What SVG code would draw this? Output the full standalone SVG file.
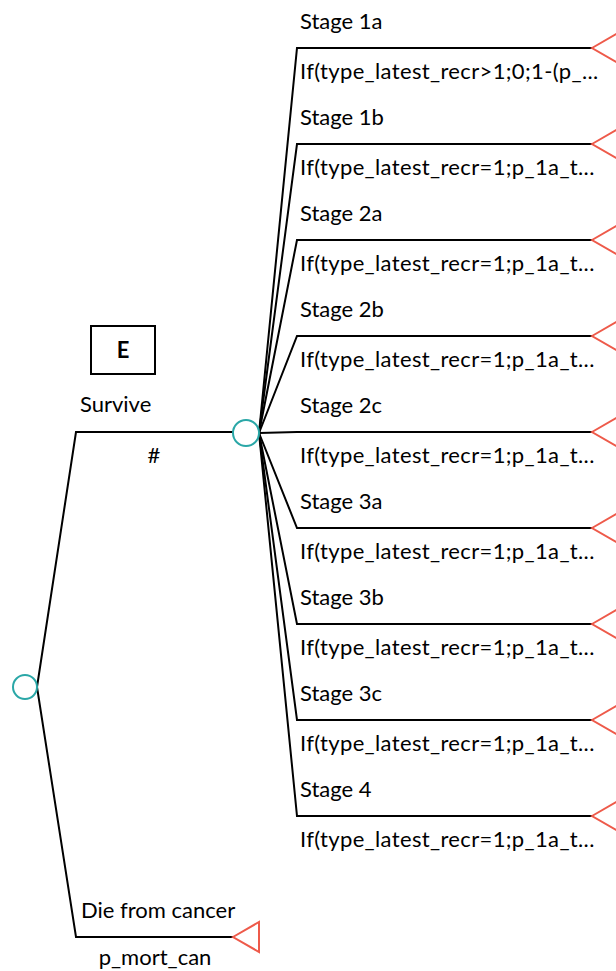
<svg xmlns="http://www.w3.org/2000/svg" width="616" height="971" viewBox="0 0 616 971">
<defs>
<style>
.ln{fill:none;stroke:#000;stroke-width:2}
.ch{fill:#fff;stroke:#2aa7a7;stroke-width:2}
.tm{fill:#fff;stroke:#ee5a4a;stroke-width:2}
.t{font-family:Lato,"Liberation Sans",sans-serif;font-size:22px;fill:#000}
.p{letter-spacing:0.35px}
.c{text-anchor:middle}
.b{font-weight:bold}
</style>
</defs>
<g id="connectors">
<polyline class="ln" points="37,687 76,432 233,432"/>
<polyline class="ln" points="37,687 76,937 233,937"/>
<polyline class="ln" points="259,433 297,48 592,48"/>
<polyline class="ln" points="259,433 297,144 592,144"/>
<polyline class="ln" points="259,433 297,240 592,240"/>
<polyline class="ln" points="259,433 297,336 592,336"/>
<polyline class="ln" points="259,433 297,432 592,432"/>
<polyline class="ln" points="259,433 297,528 592,528"/>
<polyline class="ln" points="259,433 297,624 592,624"/>
<polyline class="ln" points="259,433 297,720 592,720"/>
<polyline class="ln" points="259,433 297,816 592,816"/>
</g>
<g id="root"><circle class="ch" cx="25" cy="687" r="12"/></g>
<g id="survive-node">
<rect x="91" y="326" width="64" height="48" fill="#fff" stroke="#000" stroke-width="2"/>
<text class="t b c" x="123" y="358">E</text>
<text class="t" x="80" y="412">Survive</text>
<text class="t c" x="154" y="463">#</text>
<circle class="ch" cx="246" cy="433" r="13"/>
</g>
<g id="die">
<text class="t" x="81" y="918">Die from cancer</text>
<text class="t c" x="155" y="965">p_mort_can</text>
<polygon class="tm" points="233,937 259,922 259,952"/>
</g>
<g id="s1a"><text class="t" x="300" y="29">Stage 1a</text><text class="t p" x="300" y="79">If(type_latest_recr&gt;1;0;1-(p_...</text><polygon class="tm" points="592,48 618,33 618,63"/></g>
<g id="s1b"><text class="t" x="300" y="125">Stage 1b</text><text class="t p" x="300" y="175">If(type_latest_recr=1;p_1a_t...</text><polygon class="tm" points="592,144 618,129 618,159"/></g>
<g id="s2a"><text class="t" x="300" y="221">Stage 2a</text><text class="t p" x="300" y="271">If(type_latest_recr=1;p_1a_t...</text><polygon class="tm" points="592,240 618,225 618,255"/></g>
<g id="s2b"><text class="t" x="300" y="317">Stage 2b</text><text class="t p" x="300" y="367">If(type_latest_recr=1;p_1a_t...</text><polygon class="tm" points="592,336 618,321 618,351"/></g>
<g id="s2c"><text class="t" x="300" y="413">Stage 2c</text><text class="t p" x="300" y="463">If(type_latest_recr=1;p_1a_t...</text><polygon class="tm" points="592,432 618,417 618,447"/></g>
<g id="s3a"><text class="t" x="300" y="509">Stage 3a</text><text class="t p" x="300" y="559">If(type_latest_recr=1;p_1a_t...</text><polygon class="tm" points="592,528 618,513 618,543"/></g>
<g id="s3b"><text class="t" x="300" y="605">Stage 3b</text><text class="t p" x="300" y="655">If(type_latest_recr=1;p_1a_t...</text><polygon class="tm" points="592,624 618,609 618,639"/></g>
<g id="s3c"><text class="t" x="300" y="701">Stage 3c</text><text class="t p" x="300" y="751">If(type_latest_recr=1;p_1a_t...</text><polygon class="tm" points="592,720 618,705 618,735"/></g>
<g id="s4"><text class="t" x="300" y="797">Stage 4</text><text class="t p" x="300" y="847">If(type_latest_recr=1;p_1a_t...</text><polygon class="tm" points="592,816 618,801 618,831"/></g>
</svg>
